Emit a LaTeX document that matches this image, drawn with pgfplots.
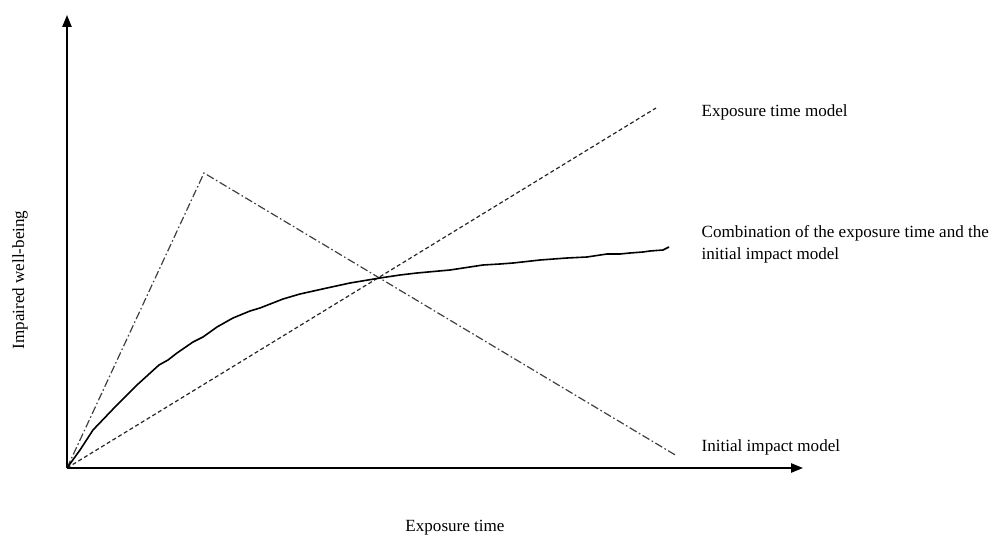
\documentclass[border=0pt]{standalone}
\usepackage{fontspec}
\setmainfont{Liberation Serif}
\usepackage{pgfplots}
\pgfplotsset{compat=1.18}
\usetikzlibrary{arrows.meta}
\begin{document}
\begin{tikzpicture}
\begin{axis}[
    scale only axis,
    width=552pt, height=339.75pt,
    xmin=0, xmax=736, ymin=0, ymax=453,
    axis lines=left,
    axis line style={line width=1.1pt, -{Triangle[length=9pt,width=7pt]}},
    xtick=\empty, ytick=\empty,
    clip=false,
    font=\fontsize{12.8}{16.5}\selectfont,
]
% fixes the page to the reference's 1007x540 frame
\path (axis cs:-67,-72) rectangle (axis cs:940,468);

% initial impact model
\addplot[black!75, line width=0.9pt, dash pattern=on 6pt off 2pt on 1.2pt off 2pt] coordinates {(0,0) (137,295) (610,12)};
% exposure time model
\addplot[black!85, line width=0.9pt, dash pattern=on 3pt off 2pt] coordinates {(0,0) (589,360)};
% combination
\addplot[black, line width=1.2pt] coordinates {
(0,0) (13,18) (26,38) (48,61) (70,83) (92,103) (101,108) (110,115) (126,126)
(136,131) (150,141) (166,150) (183,157) (193,160) (216,169) (233,174) (260,180)
(283,185) (313,190) (333,193) (350,195) (383,198) (416,203) (433,204) (446,205)
(473,208) (500,210) (520,211) (540,214) (553,214) (563,215) (576,216) (583,217)
(596,218) (602,221)};

\node[anchor=west] at (axis cs:630,356) {Exposure time model};
\node[anchor=west, align=left] at (axis cs:630,224) {Combination of the exposure time and the\\initial impact model};
\node[anchor=west] at (axis cs:630,21) {Initial impact model};
\node at (axis cs:388,-60) {Exposure time};
\node[rotate=90] at (axis cs:-47,188) {Impaired well-being};
\end{axis}
\end{tikzpicture}
\end{document}
